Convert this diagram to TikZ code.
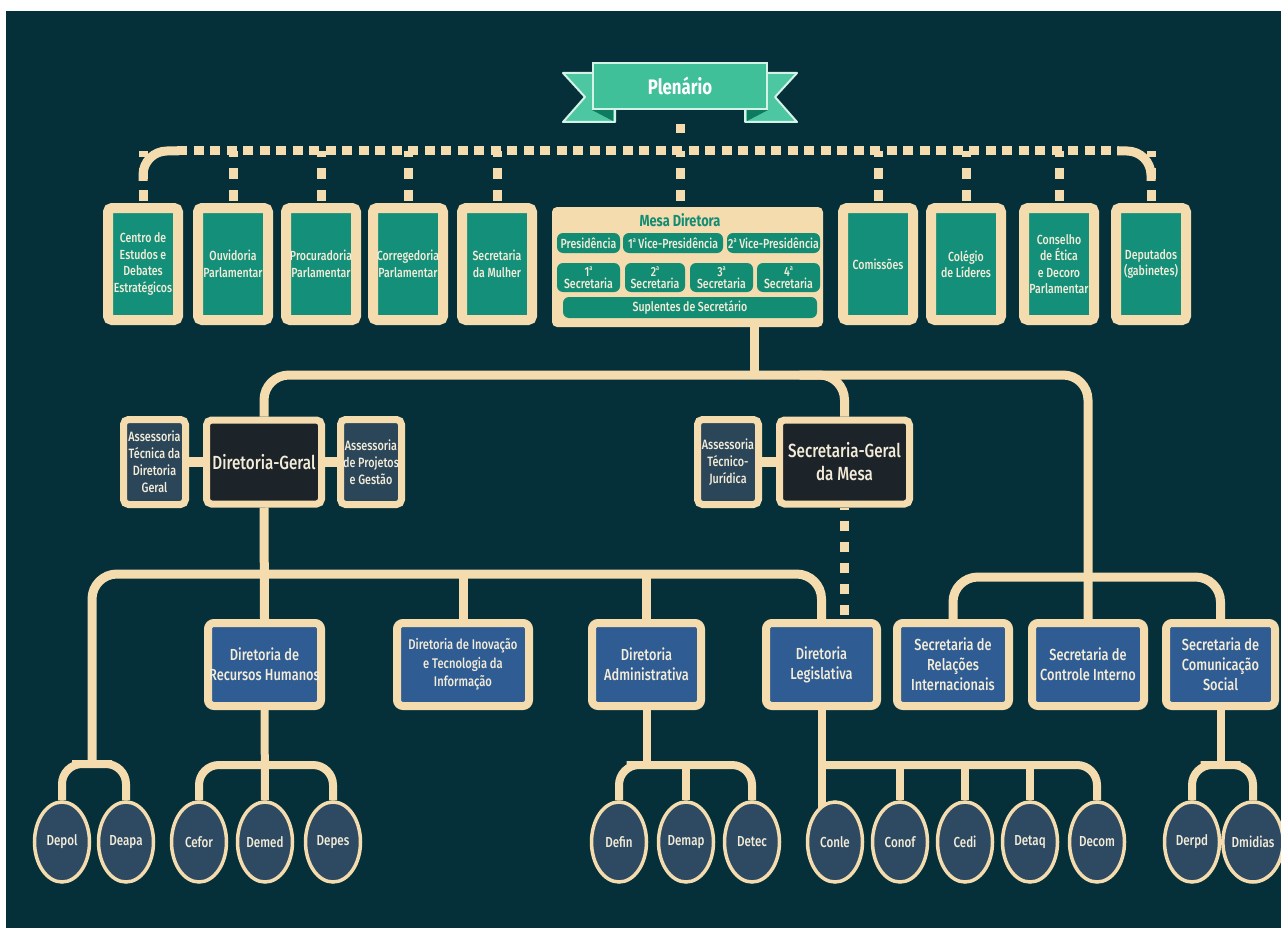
\documentclass[tikz,border=0pt]{standalone}
\usepackage{fontspec}
\setmainfont{Fira Sans}[FakeStretch=0.8, UprightFont={* Medium}, BoldFont={* Bold}]
\usetikzlibrary{shapes.geometric,calc}
\pgfdeclarelayer{bg}
\pgfsetlayers{bg,main}
\definecolor{bgc}{HTML}{05303A}
\definecolor{cream}{HTML}{F4DCAF}
\definecolor{tealbox}{HTML}{14907A}
\definecolor{pillc}{HTML}{138C74}
\definecolor{boxtext}{HTML}{F3ECD8}
\definecolor{asfill}{HTML}{2B4559}
\definecolor{darkfill}{HTML}{1C2329}
\definecolor{bluefill}{HTML}{2F5C93}
\definecolor{ovalfill}{HTML}{2D4A62}
\definecolor{ribmain}{HTML}{3FC099}
\definecolor{ribtail}{HTML}{4CC7A2}
\definecolor{ribedge}{HTML}{D4F3E6}
\definecolor{ribfold}{HTML}{0E7A60}
\newcommand{\ordA}{\raisebox{0.45em}{\fontsize{7}{7}\selectfont a}}
\begin{document}
\begin{tikzpicture}[x=1pt,y=-1pt,
  topbox/.style={draw=cream, fill=tealbox, line width=10pt, rounded corners=4pt,
    minimum width=70pt, minimum height=112pt, inner sep=0pt, align=center,
    text=boxtext, font=\fontsize{13.2}{16.5}\selectfont},
  mesabox/.style={fill=cream, rounded corners=5pt, minimum width=271pt, minimum height=120pt, inner sep=0pt},
  pill/.style={fill=pillc, rounded corners=6pt, inner sep=0pt, align=center, text=boxtext,
    font=\fontsize{13.2}{12}\selectfont},
  asbox/.style={draw=cream, fill=asfill, line width=7pt, rounded corners=5pt,
    minimum width=61pt, minimum height=85pt, inner sep=0pt, align=center,
    text=boxtext, font=\fontsize{13.5}{17}\selectfont},
  bigbox/.style={asbox, fill=darkfill, font=\fontsize{19}{23}\selectfont, minimum height=84pt},
  lowbox/.style={draw=cream, fill=bluefill, line width=8pt, rounded corners=6pt,
    minimum height=83pt, inner sep=0pt, align=center, text=boxtext,
    font=\fontsize{16}{20}\selectfont},
  oval/.style={ellipse, draw=cream, fill=ovalfill, line width=3.5pt, minimum width=55pt,
    minimum height=80pt, inner sep=0pt, text=boxtext, font=\fontsize{14.5}{16}\selectfont},
  conn/.style={draw=cream, line width=9pt},
  subconn/.style={draw=cream, line width=8pt},
  dotbus/.style={draw=cream, line width=9pt, dash pattern=on 10pt off 6.5pt},
  dropdash/.style={draw=cream, line width=9pt, dash pattern=on 11pt off 11pt, dash phase=5pt},
  plendash/.style={draw=cream, line width=9pt, dash pattern=on 9pt off 28pt, dash phase=23pt},
  sgdash/.style={draw=cream, line width=9pt, dash pattern=on 10pt off 11pt, dash phase=8pt}
]
\useasboundingbox (0,0) rectangle (1281,928);
\begin{pgfonlayer}{bg}
\fill[white] (0,0) rectangle (1281,928);
\fill[bgc] (6,11) rectangle (1281,928);
\end{pgfonlayer}

% Plenario banner
\filldraw[fill=ribtail, draw=ribedge, line width=2pt, line join=round]
  (563,73) -- (615,73) -- (615,122) -- (563,122) -- (585,97) -- cycle;
\filldraw[fill=ribtail, draw=ribedge, line width=2pt, line join=round]
  (797,73) -- (745,73) -- (745,122) -- (797,122) -- (775,97) -- cycle;
\fill[ribfold] (592,110) -- (613,110) -- (613,121) -- cycle;
\fill[ribfold] (768,110) -- (747,110) -- (747,121) -- cycle;
\node[fill=ribmain, draw=ribedge, line width=2pt, minimum width=174pt, minimum height=46pt,
  inner sep=0pt, text=white, font=\bfseries\fontsize{21}{24}\selectfont] (plen) at (680,86) {Plenário};

% top row
\node[topbox] (cen) at (143,264) {Centro de\\Estudos e\\Debates\\Estratégicos};
\node[topbox] (ouv) at (233,264) {Ouvidoria\\Parlamentar};
\node[topbox] (proc) at (321,264) {Procuradoria\\Parlamentar};
\node[topbox] (corr) at (408,264) {Corregedoria\\Parlamentar};
\node[topbox] (mul) at (497,264) {Secretaria\\da Mulher};
\node[topbox] (comis) at (878,264) {Comissões};
\node[topbox] (col) at (966,264) {Colégio\\de Líderes};
\node[topbox] (cons) at (1059,264) {Conselho\\de Ética\\e Decoro\\Parlamentar};
\node[topbox] (dep) at (1151,264) {Deputados\\(gabinetes)};

% Mesa Diretora
\node[mesabox] (mesa) at (687.5,267) {};
\node[text=pillc, font=\bfseries\fontsize{16}{18}\selectfont] (mesat) at (680,220) {Mesa Diretora};
\node[pill, minimum width=63pt, minimum height=20pt] (pres) at (588.5,243) {Presidência};
\node[pill, minimum width=100pt, minimum height=20pt] (vp1) at (673,243) {1\ordA{} Vice-Presidência};
\node[pill, minimum width=93pt, minimum height=20pt] (vp2) at (773.5,243) {2\ordA{} Vice-Presidência};
\node[pill, minimum width=63pt, minimum height=29pt] (s1) at (588.5,277.5) {1\ordA\\Secretaria};
\node[pill, minimum width=60pt, minimum height=29pt] (s2) at (655,277.5) {2\ordA\\Secretaria};
\node[pill, minimum width=63pt, minimum height=29pt] (s3) at (721.5,277.5) {3\ordA\\Secretaria};
\node[pill, minimum width=63pt, minimum height=29pt] (s4) at (788.5,277.5) {4\ordA\\Secretaria};
\node[pill, minimum width=254pt, minimum height=21pt] (supl) at (690,307.5) {Suplentes de Secretário};

% middle row
\node[asbox, minimum width=62pt] (asstec) at (154.5,462) {Assessoria\\Técnica da\\Diretoria\\Geral};
\node[bigbox, minimum width=115pt] (dg) at (264,462) {Diretoria-Geral};
\node[asbox] (assproj) at (371,462) {Assessoria\\de Projetos\\e Gestão};
\node[asbox] (asstj) at (728,462) {Assessoria\\Técnico-\\Jurídica};
\node[bigbox, minimum width=130pt] (sg) at (844.5,462) {Secretaria-Geral\\da Mesa};

% lower row
\node[lowbox, minimum width=113pt] (drh) at (264.5,664.5) {Diretoria de\\Recursos Humanos};
\node[lowbox, minimum width=132pt, font=\fontsize{14}{18.5}\selectfont] (inov) at (463,664.5) {Diretoria de Inovação\\e Tecnologia da\\Informação};
\node[lowbox, minimum width=109pt] (adm) at (646.5,664.5) {Diretoria\\Administrativa};
\node[lowbox, minimum width=111pt] (leg) at (821.5,664.5) {Diretoria\\Legislativa};
\node[lowbox, minimum width=112pt] (rel) at (953,664.5) {Secretaria de\\Relações\\Internacionais};
\node[lowbox, minimum width=112pt] (ctrl) at (1088,664.5) {Secretaria de\\Controle Interno};
\node[lowbox, minimum width=109pt] (com) at (1220.5,664.5) {Secretaria de\\Comunicação\\Social};

% ovals
\node[oval] (depol) at (62,842) {Depol};
\node[oval] (deapa) at (126,842) {Deapa};
\node[oval] (cefor) at (199,842) {Cefor};
\node[oval] (demed) at (265,842) {Demed};
\node[oval] (depes) at (333,842) {Depes};
\node[oval] (defin) at (619,842) {Defin};
\node[oval] (demap) at (686,842) {Demap};
\node[oval] (detec) at (752,842) {Detec};
\node[oval] (conle) at (835,842) {Conle};
\node[oval] (conof) at (900,842) {Conof};
\node[oval] (cedi) at (965,842) {Cedi};
\node[oval] (detaq) at (1030,842) {Detaq};
\node[oval] (decom) at (1097,842) {Decom};
\node[oval] (derpd) at (1192,842) {Derpd};
\node[oval] (dmidias) at (1253,842) {Dmidias};

% connectors
\begin{pgfonlayer}{bg}
\coordinate (tbl) at (143,151);
\coordinate (tbr) at (1151,151);
\draw[plendash] (plen.south) -- (plen.south |- tbl);
\draw[conn, rounded corners=24] ($(tbl)+(0,30)$) -- (tbl) -- ($(tbl)+(36,0)$);
\draw[dotbus] ($(tbl)+(34,0)$) -- ($(tbr)+(-32,0)$);
\draw[conn, rounded corners=24] ($(tbr)+(-34,0)$) -- (tbr) -- ($(tbr)+(0,30)$);
\draw[dropdash] (tbl) -- (cen.north);
\draw[dropdash] (tbr) -- (dep.north);
\foreach \n in {ouv,proc,corr,mul,comis,col,cons}
  \draw[dropdash] (\n.north |- tbl) -- (\n.north);
\draw[dropdash] (plen.south |- tbl) -- (plen.south |- mesa.north);

\coordinate (ub) at (754,375);
\draw[conn] (ub |- mesa.south) -- (ub);
\draw[conn, rounded corners=25] (dg.north) |- (ctrl.north |- ub) -- (ctrl.north);
\draw[conn, rounded corners=25] ($(sg.north |- ub)+(-45,0)$) -| (sg.north);
\draw[conn, line width=10pt] (asstec.east) -- (dg.west);
\draw[conn, line width=10pt] (dg.east) -- (assproj.west);
\draw[conn, line width=10pt] (asstj.east) -- (sg.west);

\coordinate (lb) at (92,574);
\coordinate (dl) at (92,764);
\draw[conn, rounded corners=25] (dl) |- (leg.north |- lb) -- (leg.north);
\draw[conn] (dg.south) -- (drh.north);
\draw[conn] (inov.north |- lb) -- (inov.north);
\draw[conn] (adm.north |- lb) -- (adm.north);
\draw[sgdash] (sg.south) -- (sg.south |- leg.north);

\coordinate (rb) at (953,577);
\draw[conn, rounded corners=25] (rel.north) |- (com.north |- rb) -- (com.north);

\coordinate (sb) at (0,765);
\draw[subconn, rounded corners=20] (depol.north) |- (dl) -| (deapa.north);
\draw[subconn, rounded corners=20] (cefor.north) |- (drh.south |- sb) -| (depes.north);
\draw[subconn] (drh.south) -- (demed.north);
\draw[subconn, rounded corners=20] (defin.north) |- (adm.south |- sb) -| (detec.north);
\draw[subconn] (adm.south) -- (adm.south |- sb);
\draw[subconn] (demap.north |- sb) -- (demap.north);
\draw[subconn] (leg.south) -- (leg.south |- conle.center);
\draw[subconn, rounded corners=20] (leg.south |- sb) -| (decom.north);
\foreach \n in {conof,cedi,detaq}
  \draw[subconn] (\n.north |- sb) -- (\n.north);
\draw[subconn, rounded corners=20] (derpd.north) |- (com.south |- sb) -| (dmidias.north);
\draw[subconn] (com.south) -- (com.south |- sb);
\end{pgfonlayer}
\end{tikzpicture}
\end{document}
